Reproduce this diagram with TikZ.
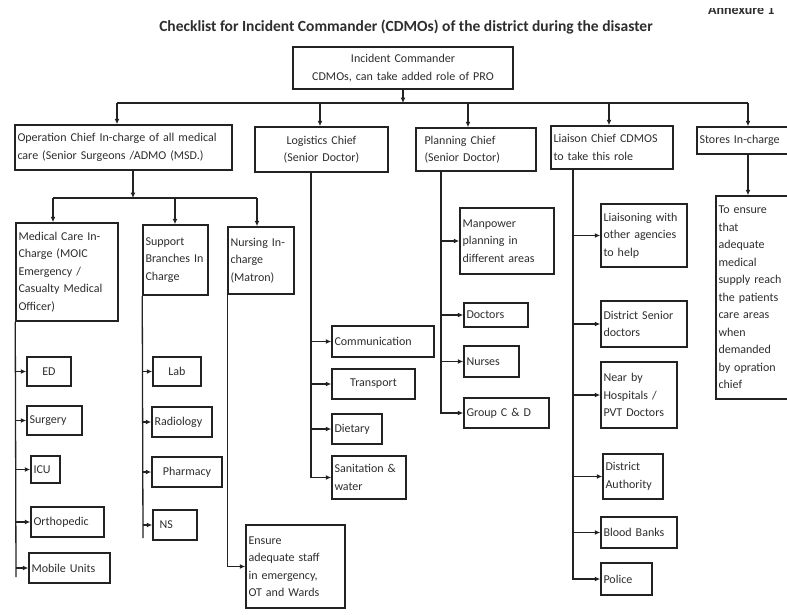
\documentclass[tikz,border=0pt]{standalone}
\usepackage{fontspec}
\setmainfont{Carlito}
\usetikzlibrary{arrows.meta}
\definecolor{ink}{HTML}{2E2E2E}
\definecolor{edge}{HTML}{222222}
\tikzset{
  box/.style={draw=edge, line width=1.5pt, inner xsep=2.5pt, inner ysep=3pt, text=ink,
    font=\fontsize{12}{17.5}\selectfont},
  arr/.style={draw=edge, line width=1.3pt, -{Latex[length=5.5pt,width=5pt]}},
  wire/.style={draw=edge, line width=1.3pt},
}
\newcommand\mybox[7][left]{%
  \pgfmathsetmacro\bxw{#5-#3}%
  \pgfmathsetmacro\bxh{#6-#4}%
  \pgfmathsetmacro\bxt{#5-#3-5}%
  \node[box, align=#1, minimum width=\bxw pt, minimum height=\bxh pt, text width=\bxt pt]
    (#2) at ({(#3+#5)/2},{(#4+#6)/2}) {#7};}
\begin{document}
\begin{tikzpicture}[x=1pt,y=-1pt]
\useasboundingbox (0,0) rectangle (787,614);
\fill[white] (0,0) rectangle (787,614);
\clip (0,0) rectangle (787,614);

\node[font=\bfseries\fontsize{15.5}{18}\selectfont, text=ink] (title) at (406,27)
  {Checklist for Incident Commander (CDMOs) of the district during the disaster};
\begin{scope}
\clip (690,8) rectangle (787,30);
\node[font=\bfseries\fontsize{14}{16}\selectfont, text=ink, anchor=base west, inner sep=0pt] (annex) at (708,14) {Annexure 1};
\end{scope}

% level 1
\mybox[center]{ic}{293}{47}{513}{89}{Incident Commander\\CDMOs, can take added role of PRO}
% level 2
\mybox{op}{15}{125}{232}{170}{Operation Chief In-charge of all medical\\care (Senior Surgeons /ADMO (MSD.)}
\mybox[center]{log}{255}{127}{388}{172}{Logistics Chief\\(Senior Doctor)}
\mybox{pl}{416}{128}{536}{171}{\hspace*{6pt}Planning Chief\\\hspace*{6pt}(Senior Doctor)}
\mybox{li}{551}{126}{673}{169}{Liaison Chief CDMOS\\to take this role}
\mybox{st}{697}{127}{800}{154}{Stores In-charge}
% operation children
\mybox{med}{16}{223}{118}{321}{Medical Care In-\\Charge (MOIC\\Emergency /\\Casualty Medical\\Officer)}
\mybox{sup}{143}{225}{208}{295}{Support\\Branches In\\Charge}
\mybox{nur}{228}{227}{294}{294}{Nursing In-\\charge\\(Matron)}
\mybox[center]{ed}{27}{357}{71}{386}{ED}
\mybox{sur}{27}{406}{82}{435}{Surgery}
\mybox{icu}{31}{456}{60}{483}{ICU}
\mybox{ort}{31}{507}{104}{537}{Orthopedic}
\mybox{mob}{29}{553}{110}{583}{Mobile Units}
\mybox[center]{lab}{153}{357}{201}{386}{Lab}
\mybox{rad}{152}{407}{212}{437}{Radiology}
\mybox[center]{pha}{152}{457}{222}{487}{Pharmacy}
\mybox{ns}{153}{510}{197}{540}{\hspace*{4pt}NS}
\mybox{ens}{246}{525}{345}{608}{Ensure\\adequate staff\\in emergency,\\OT and Wards}
% logistics children
\mybox{com}{332}{326}{434}{357}{Communication}
\mybox[center]{tra}{332}{369}{415}{399}{Transport}
\mybox{die}{332}{414}{382}{444}{Dietary}
\mybox{san}{332}{456}{406}{499}{Sanitation \&\\water}
% planning children
\mybox{man}{460}{208}{554}{274}{Manpower\\planning in\\different areas}
\mybox{doc}{464}{303}{528}{327}{Doctors}
\mybox{nrs}{464}{346}{519}{377}{Nurses}
\mybox{grp}{464}{398}{549}{428}{Group C \& D}
% liaison children
\mybox{lia}{601}{204}{687}{267}{Liaisoning with\\other agencies\\to help}
\mybox{dsd}{601}{301}{687}{347}{District Senior\\doctors}
\mybox{near}{601}{362}{677}{428}{Near by\\Hospitals /\\PVT Doctors}
\mybox{da}{603}{454}{663}{499}{District\\Authority}
\mybox{bb}{601}{517}{677}{548}{Blood Banks}
\mybox{pol}{601}{563}{652}{595}{Police}
% stores child
\mybox{sup2}{716}{196}{789}{399}{To ensure\\that\\adequate\\medical\\supply reach\\the patients\\care areas\\when\\demanded\\by opration\\chief}

% main bus
\coordinate (bus0) at (403,103);
\coordinate (busL) at (117,103);
\coordinate (bLog) at (320,103);
\coordinate (bPl) at (468,103);
\coordinate (bLi) at (609,103);
\coordinate (busR) at (748,103);
\draw[arr] (ic.south) -- (bus0);
\draw[wire] (busL) -- (busR);
\draw[arr] (busL) -- (busL |- op.north);
\draw[arr] (bLog) -- (bLog |- log.north);
\draw[arr] (bPl) -- (bPl |- pl.north);
\draw[arr] (bLi) -- (bLi |- li.north);
\draw[arr] (busR) -- (busR |- st.north);

% operation sub-bus
\coordinate (obus) at (133,198);
\coordinate (obL) at (53,198);
\coordinate (obM) at (175,198);
\coordinate (obR) at (257,198);
\draw[arr] (obus |- op.south) -- (obus);
\draw[wire] (obL) -- (obR);
\draw[arr] (obL) -- (obL |- med.north);
\draw[arr] (obM) -- (obM |- sup.north);
\draw[arr] (obR) -- (obR |- nur.north);

% medical care branch
\coordinate (medEnd) at (16,577);
\draw[wire] (med.south west) -- (medEnd);
\foreach \c in {ed,sur,icu,ort,mob}
  \draw[arr] (medEnd |- \c.west) -- (\c.west);

% support branch
\coordinate (supEnd) at (143,538);
\draw[wire] (sup.south west) -- (supEnd);
\foreach \c in {lab,rad,pha,ns}
  \draw[arr] (supEnd |- \c.west) -- (\c.west);

% nursing branch
\draw[arr] (nur.south west) |- (ens.west);

% logistics branch
\coordinate (logX) at (311,0);
\draw[arr] (log.south -| logX) |- (san.west);
\foreach \c in {com,tra,die}
  \draw[arr] (logX |- \c.west) -- (\c.west);

% planning branch
\coordinate (plX) at (441,0);
\draw[arr] (pl.south -| plX) |- (grp.west);
\foreach \c in {man,doc,nrs}
  \draw[arr] (plX |- \c.west) -- (\c.west);

% liaison branch
\coordinate (liX) at (573,0);
\draw[arr] (li.south -| liX) |- (pol.west);
\foreach \c in {lia,dsd,near,da,bb}
  \draw[arr] (liX |- \c.west) -- (\c.west);

% stores branch
\draw[arr] (st.south -| busR) -- (sup2.north -| busR);
\end{tikzpicture}
\end{document}
